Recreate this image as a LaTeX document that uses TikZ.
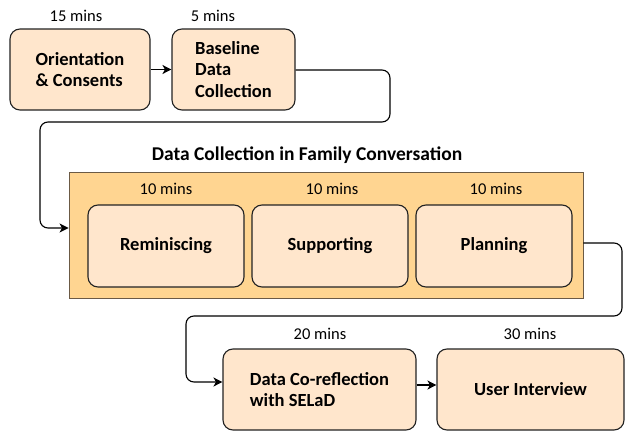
\documentclass[tikz,border=0pt]{standalone}
\usepackage{fontspec}
\setmainfont{Carlito}
\usetikzlibrary{arrows.meta}
\definecolor{boxfill}{HTML}{FFE6CC}
\definecolor{contfill}{HTML}{FFD591}
\definecolor{boxline}{HTML}{222222}
\definecolor{contline}{HTML}{6B5A45}
\tikzset{
  stage/.style={draw=boxline, line width=1.1pt, fill=boxfill, rounded corners=10pt,
    inner sep=0pt, align=left, font=\fontsize{18.5}{21.5}\selectfont\bfseries},
  container/.style={draw=contline, line width=0.9pt, fill=contfill, inner sep=0pt},
  timelbl/.style={font=\fontsize{16.5}{18}\selectfont, inner sep=0pt},
  conn/.style={draw=black, line width=1.1pt, rounded corners=8pt,
    -{Stealth[length=9pt,width=9pt,inset=2.5pt]}},
}
\begin{document}
\begin{tikzpicture}[x=1pt,y=-1pt]
\useasboundingbox (0,0) rectangle (625,434);
\clip (0,0) rectangle (625,434);
% top row
\node[stage, minimum width=140pt, minimum height=81pt] (orient) at (80,69.5) {Orientation\\\& Consents};
\node[stage, minimum width=123pt, minimum height=81pt] (base) at (233.5,69.5) {Baseline\\Data\\Collection};
\node[timelbl] (t1) at (76,16) {15 mins};
\node[timelbl] (t2) at (213,16) {5 mins};
% container
\node[container, minimum width=514pt, minimum height=126pt] (cont) at (326,235) {};
\node[font=\fontsize{19.5}{22}\selectfont\bfseries, inner sep=0pt] (title) at (307,155) {Data Collection in Family Conversation};
\node[stage, align=center, minimum width=156pt, minimum height=82pt] (rem) at (166,246) {Reminiscing};
\node[stage, align=center, minimum width=156pt, minimum height=82pt] (sup) at (330,246) {Supporting};
\node[stage, align=center, minimum width=156pt, minimum height=82pt] (plan) at (494,246) {Planning};
\node[timelbl] (t3) at (166,189) {10 mins};
\node[timelbl] (t4) at (332,189) {10 mins};
\node[timelbl] (t5) at (496,189) {10 mins};
% bottom row
\node[stage, minimum width=193pt, minimum height=81pt] (cor) at (319.5,389.5) {Data Co-reflection\\with SELaD};
\node[stage, align=center, minimum width=187pt, minimum height=81pt] (ui) at (530.5,389.5) {User Interview};
\node[timelbl] (t6) at (320,334) {20 mins};
\node[timelbl] (t7) at (530,334) {30 mins};
% connectors
\draw[conn] (orient.east) -- (base.west);
\coordinate (a1) at (390,70);
\coordinate (a2) at (390,122);
\coordinate (a3) at (40,122);
\coordinate (a4) at (40,228);
\draw[conn] (base.east |- a1) -- (a1) -- (a2) -- (a3) -- (a4) -- (cont.west |- a4);
\coordinate (b0) at (583,243);
\coordinate (b1) at (622,243);
\coordinate (b2) at (622,316);
\coordinate (b3) at (186,316);
\coordinate (b4) at (186,382);
\draw[conn] (cont.east |- b0) -- (b1) -- (b2) -- (b3) -- (b4) -- (cor.west |- b4);
\draw[conn] (cor.east |- 0,385) -- (ui.west |- 0,385);
\end{tikzpicture}
\end{document}
